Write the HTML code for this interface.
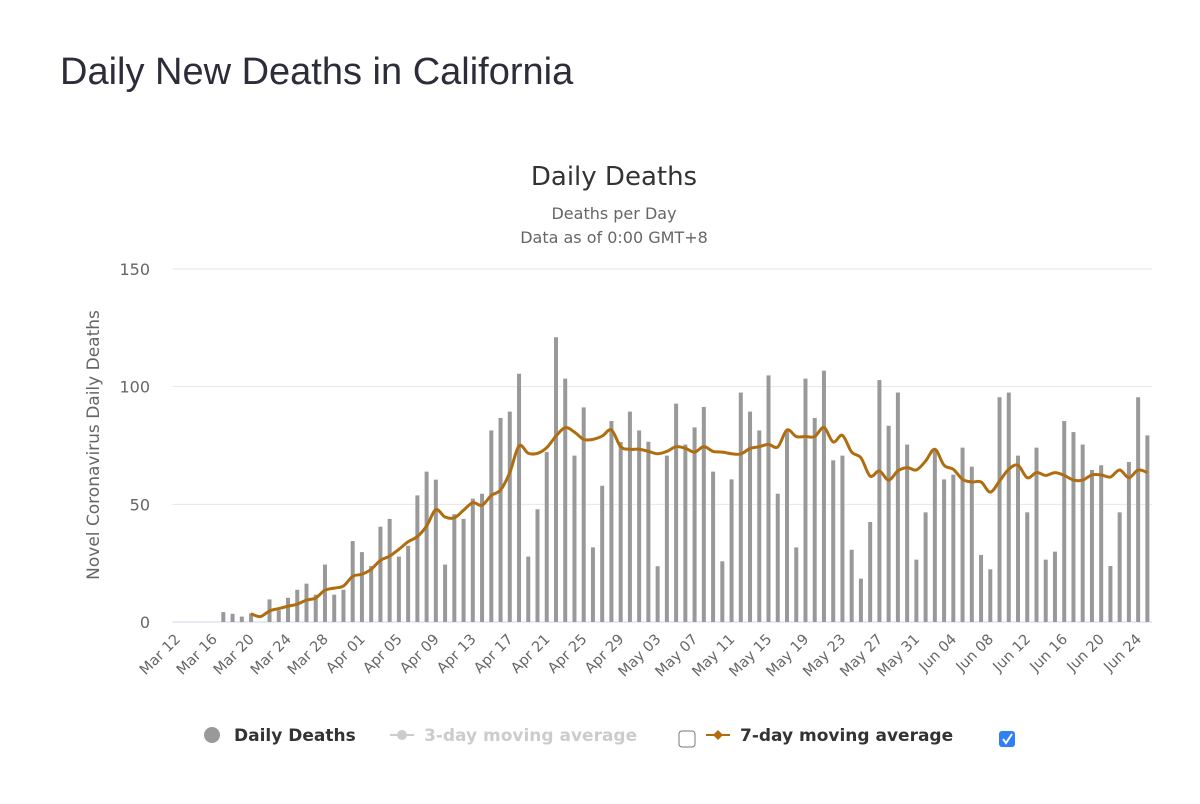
<!DOCTYPE html>
<html><head><meta charset="utf-8"><style>
body{margin:0;background:#fff;width:1200px;height:804px;overflow:hidden;font-family:"Liberation Sans",sans-serif}
#h{position:absolute;left:60px;top:51px;font-size:38px;color:#2d2d3a;margin:0;font-weight:normal}
svg{position:absolute;left:0;top:0}
</style></head><body>
<h1 id="h">Daily New Deaths in California</h1>
<svg id="c" width="1200" height="804"></svg>
<script>
const startLabel = "2020-03-12";
const daily = [0,0,0,0,0,4.2,3.5,2.3,3.7,0,9.6,5,10.3,13.7,16.3,11.6,24.4,11.6,13.7,34.4,29.7,23.8,40.5,43.8,27.8,32.4,53.8,63.9,60.5,24.4,45.8,43.8,52.4,54.5,81.4,86.7,89.4,105.5,27.8,47.9,72.2,121,103.4,70.7,91.2,31.7,57.9,85.4,76.5,89.4,81.4,76.6,23.7,70.7,92.8,75.4,82.7,91.4,63.9,25.8,60.6,97.5,89.4,81.4,104.8,54.5,81.4,31.7,103.4,86.7,106.8,68.7,70.7,30.7,18.4,42.5,102.8,83.4,97.5,75.4,26.5,46.6,73.4,60.6,62.6,74.1,66,28.5,22.4,95.5,97.5,70.7,46.6,74.1,26.5,29.9,85.4,80.7,75.4,64.6,66.6,23.8,46.6,68,95.5,79.3];
const ma7 = [null,null,null,null,null,null,null,null,3.5,2.3,4.7,5.7,6.7,7.6,9.3,10.2,13.5,14.4,15.3,19.4,20.3,22.4,26.2,28,30.9,34.1,36.3,40.8,47.7,44.6,44.3,47.5,50.7,49.6,53.8,56.1,63.5,74.8,71.7,71.7,74.1,79,82.6,80.7,77.6,77.6,79,81.6,74.5,73.4,73.4,72.5,71.5,72.5,74.5,73.8,72.2,74.5,72.5,72.2,71.5,71.4,73.7,74.5,75.5,74.4,81.6,78.8,78.8,78.8,82.6,76.5,79.3,72.2,69.8,62,64.2,60.3,64.2,65.6,64.6,68.4,73.4,66.6,64.9,60.6,59.5,59.5,55.2,59.9,64.9,66.6,61.3,63.5,62.3,63.5,62.3,60.3,60.3,62.5,62.5,61.6,64.6,61.3,64.6,63.5];
const yTicks = [0,50,100,150];

const NS="http://www.w3.org/2000/svg", svg=document.getElementById('c');
const L=172.5,R=1152,T=269,B=622,N=daily.length,bw=(R-L)/N;
const x=i=>L+bw*(i+0.5), y=v=>B-(v/150)*(B-T);
function mk(t,a,p){const e=document.createElementNS(NS,t);for(const k in a)e.setAttribute(k,a[k]);(p||svg).appendChild(e);return e;}
function tx(s,a){const e=mk('text',a);e.textContent=s;return e;}
const months=["Jan","Feb","Mar","Apr","May","Jun","Jul"];
function lab(i){const d=new Date(startLabel+"T00:00:00Z");d.setUTCDate(d.getUTCDate()+i);return months[d.getUTCMonth()]+" "+String(d.getUTCDate()).padStart(2,'0');}

let e=tx("Daily Deaths",{x:614,y:185,'text-anchor':'middle','font-size':26,fill:'#333','font-family':'DejaVu Sans, sans-serif'});

e=tx("Deaths per Day",{x:614,y:219,'text-anchor':'middle','font-size':16,fill:'#666','font-family':'DejaVu Sans, sans-serif'});

e=tx("Data as of 0:00 GMT+8",{x:614,y:243,'text-anchor':'middle','font-size':16,fill:'#666','font-family':'DejaVu Sans, sans-serif'});


yTicks.forEach(v=>{
  const g=mk('line',{x1:L,x2:R,y1:y(v),y2:y(v),stroke:v===0?'#ccd6eb':'#e6e6e6','stroke-width':1});
  
  const t=tx(String(v),{x:150,y:y(v)+6,'text-anchor':'end','font-size':16,fill:'#666','font-family':'DejaVu Sans, sans-serif'});
  
});
e=tx("Novel Coronavirus Daily Deaths",{x:0,y:0,transform:'translate(99,445) rotate(-90)','text-anchor':'middle','font-size':17,fill:'#666','font-family':'DejaVu Sans, sans-serif'});


daily.forEach((v,i)=>{
  if(v<=0)return;
  const r=mk('rect',{x:x(i)-2,y:y(v),width:4,height:B-y(v),fill:'#999'});
  
});
for(let i=0;i<N;i+=4){
  const t=tx(lab(i),{x:0,y:0,transform:`translate(${x(i)+4},${B+18}) rotate(-45)`,'text-anchor':'end','font-size':14.5,fill:'#666','font-family':'DejaVu Sans, sans-serif'});
  
}
const pts=[];ma7.forEach((v,i)=>{if(v!==null)pts.push([x(i),y(v)]);});
let d="M"+pts[0][0]+","+pts[0][1];
for(let i=0;i<pts.length-1;i++){
  const p0=pts[Math.max(0,i-1)],p1=pts[i],p2=pts[i+1],p3=pts[Math.min(pts.length-1,i+2)];
  const c1=[p1[0]+(p2[0]-p0[0])/6,p1[1]+(p2[1]-p0[1])/6],c2=[p2[0]-(p3[0]-p1[0])/6,p2[1]-(p3[1]-p1[1])/6];
  d+=`C${c1[0]},${c1[1]} ${c2[0]},${c2[1]} ${p2[0]},${p2[1]}`;
}
e=mk('path',{d:d,fill:'none',stroke:'#b06d0f','stroke-width':3,'stroke-linejoin':'round'});


const LY=735;
e=mk('circle',{cx:212,cy:LY,r:8,fill:'#999'});
e=tx("Daily Deaths",{x:234,y:LY+6,'font-size':17,'font-weight':'bold',fill:'#333','font-family':'DejaVu Sans, sans-serif'});
e=mk('line',{x1:390,x2:414,y1:LY,y2:LY,stroke:'#ccc','stroke-width':2});
e=mk('circle',{cx:402,cy:LY,r:5,fill:'#ccc'});
e=tx("3-day moving average",{x:424,y:LY+6,'font-size':17,'font-weight':'bold',fill:'#ccc','font-family':'DejaVu Sans, sans-serif'});
e=mk('rect',{x:679,y:731,width:16,height:16,rx:3,fill:'#fff',stroke:'#777','stroke-width':1});
e=mk('line',{x1:706,x2:730,y1:LY,y2:LY,stroke:'#b06d0f','stroke-width':2});
e=mk('path',{d:`M718,${LY-5}L723,${LY}L718,${LY+5}L713,${LY}Z`,fill:'#b06d0f'});
e=tx("7-day moving average",{x:740,y:LY+6,'font-size':17,'font-weight':'bold',fill:'#333','font-family':'DejaVu Sans, sans-serif'});
e=mk('rect',{x:999,y:731,width:16,height:16,rx:3,fill:'#2f7ff5'});
e=mk('path',{d:'M1003,739L1006,743L1012,734',fill:'none',stroke:'#fff','stroke-width':2});
</script>
</body></html>
